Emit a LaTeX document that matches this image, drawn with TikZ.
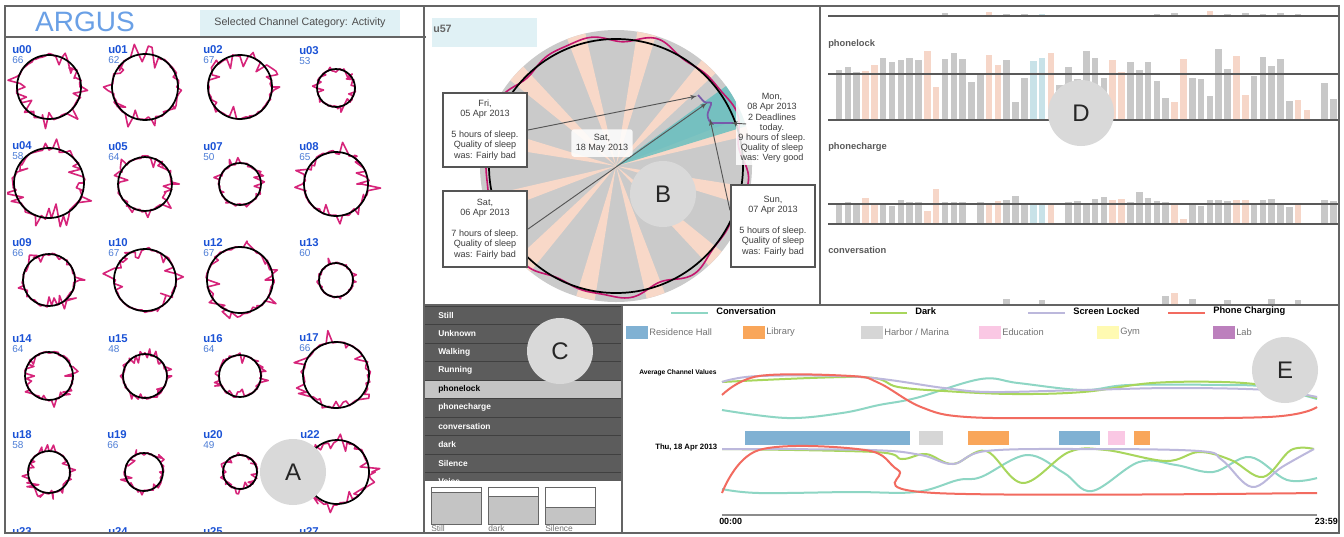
\documentclass[tikz,border=0pt]{standalone}
\usepackage{fontspec}
\setmainfont{Liberation Sans}
\usetikzlibrary{arrows,positioning}
\definecolor{framegray}{RGB}{100,100,100}
\definecolor{argusblue}{RGB}{106,160,230}
\definecolor{catbg}{RGB}{224,241,245}
\definecolor{uidblue}{RGB}{26,82,214}
\definecolor{numblue}{RGB}{77,125,214}
\definecolor{spikepink}{RGB}{214,36,122}
\definecolor{markgray}{RGB}{217,217,217}
\definecolor{sleepgray}{RGB}{202,202,202}
\definecolor{sleeppeach}{RGB}{248,216,200}
\definecolor{sleepteal}{RGB}{96,190,190}
\definecolor{sleepline}{RGB}{196,22,110}
\definecolor{sleeppurple}{RGB}{120,90,170}
\definecolor{notegray}{RGB}{85,85,85}
\definecolor{notetext}{RGB}{60,60,60}
\definecolor{barg}{RGB}{200,200,200}
\definecolor{barp}{RGB}{246,214,200}
\definecolor{barb}{RGB}{200,226,232}
\definecolor{rowdark}{RGB}{92,92,92}
\definecolor{rowlight}{RGB}{196,196,196}
\definecolor{convcol}{RGB}{142,214,196}
\definecolor{darkcol}{RGB}{168,214,92}
\definecolor{lockcol}{RGB}{188,184,220}
\definecolor{chargecol}{RGB}{242,107,96}
\definecolor{reshall}{RGB}{128,177,211}
\definecolor{library}{RGB}{249,166,90}
\definecolor{harbor}{RGB}{214,214,214}
\definecolor{educ}{RGB}{250,200,228}
\definecolor{gym}{RGB}{255,250,178}
\definecolor{lab}{RGB}{188,128,189}
\tikzstyle{userid}=[anchor=north west, inner sep=0pt, text=uidblue, font=\fontsize{8.5}{9}\selectfont\bfseries]
\tikzstyle{usernum}=[anchor=north west, inner sep=0pt, text=numblue, font=\fontsize{7.5}{8}\selectfont]
\tikzstyle{spikes}=[draw=spikepink, line width=1.2pt, line join=round]
\tikzstyle{ring}=[draw=black, line width=1.3pt]
\tikzstyle{panelmark}=[circle, fill=markgray, minimum size=49.5pt, inner sep=0pt, font=\fontsize{18}{18}\selectfont, text=black!85]
\tikzstyle{note}=[draw=notegray, line width=1.6pt, fill=white, align=center, text=notetext, font=\fontsize{6.8}{7.8}\selectfont, inner sep=2pt, minimum width=63pt]
\tikzstyle{pointer}=[->, >=latex', draw=notegray, line width=0.7pt]
\tikzstyle{chanrow}=[draw=black!75, line width=0.6pt]
\tikzstyle{chanlabel}=[anchor=west, inner sep=0pt, font=\fontsize{6.3}{7}\selectfont\bfseries]
\tikzstyle{barlabel}=[anchor=west, inner sep=0pt, text=black!65, font=\fontsize{7}{8}\selectfont\bfseries]
\tikzstyle{refline}=[draw=black!65, line width=0.8pt]
\tikzstyle{legtext}=[anchor=west, inner sep=0pt, font=\fontsize{7}{8}\selectfont\bfseries]
\tikzstyle{loctext}=[anchor=west, inner sep=0pt, text=black!55, font=\fontsize{7}{8}\selectfont]
\tikzstyle{curve}=[line width=1.5pt]
\begin{document}
\begin{tikzpicture}[x=0.75pt,y=-0.75pt]
\useasboundingbox (0,0) rectangle (1344,536);
\fill[white] (0,0) rectangle (1344,536);

\node[text=argusblue, font=\fontsize{21}{21}\selectfont, inner sep=0pt] (title) at (85,22) {ARGUS};
\node[fill=catbg, text=black!70, font=\fontsize{8}{9}\selectfont, minimum width=150pt, minimum height=19.5pt, inner sep=0pt] (category) at (300,23) {Selected Channel Category: Activity};

\begin{scope}
\clip (7,38) rectangle (423,532);
\foreach \lab/\num/\cx/\cy/\r [count=\k] in {00/66/49/87/32, 01/62/145/87/33, 02/67/240/87/32, 03/53/336/88/19,
  04/58/49/183/35, 05/64/145/184/27, 07/50/240/184/21, 08/65/336/184/32,
  09/66/49/280/26, 10/67/145/280/31, 12/67/240/280/33, 13/60/336/280/17,
  14/64/49/376/24, 15/48/145/376/22, 16/64/240/376/21, 17/66/336/375/33,
  18/58/49/472/21, 19/66/144/472/19, 20/49/240/472/17, 22//337/472/32} {
  \node[userid] (u\lab) at (\cx-37,\cy-42) {u\lab};
  \node[usernum] (n\lab) at (\cx-37,\cy-31) {\num};
  \pgfmathtruncatemacro\sd{\k*37+11}
  \pgfmathsetseed{\sd}
  \draw[spikes, shift={(\cx,\cy)}] plot[domain=0:360, samples=61, variable=\t] (\t:{\r*(1+0.05*rand+0.38*rand*(rnd>0.7))}) -- cycle;
  \draw[ring] (\cx,\cy) circle[radius=\r];
}
\foreach \lab/\cx/\r [count=\k] in {23/49/30, 24/145/28, 25/240/26, 27/336/30} {
  \node[userid] (u\lab) at (\cx-37,527) {u\lab};
  \pgfmathtruncatemacro\sd{\k*53+5}
  \pgfmathsetseed{\sd}
  \draw[spikes, shift={(\cx,572)}] plot[domain=0:360, samples=61, variable=\t] (\t:{\r*(1+0.05*rand+0.38*rand*(rnd>0.7))}) -- cycle;
}
\end{scope}

\node[fill=catbg, minimum width=78.75pt, minimum height=21.75pt, inner sep=0pt] (uidbox) at (484.5,32.5) {};
\node[anchor=west, inner sep=0pt, text=black!60, font=\fontsize{8}{9}\selectfont\bfseries] (uid) at (433,29) {u57};
\begin{scope}[shift={(616,166)}]
\fill[sleepgray] (0,0) circle[radius=136];
\foreach \a in {13,43,...,343}
  \fill[sleeppeach] (0,0) -- ({-\a}:136) -- ({-\a-4}:136) -- ({-\a-8}:136) -- cycle;
\fill[sleepteal, opacity=0.8] (0,0) -- (-17:136) -- (-22:136) -- (-27:136) -- (-32:136) -- (-36:136) -- cycle;
\draw[sleepline, line width=1.2pt] plot[domain=0:360, samples=145, smooth, variable=\t] (\t:{129+3*sin(9*\t)+2*sin(14*\t+30)});
\draw[line width=1.3pt] (0,0) circle[radius=127];
\draw[sleeppurple, line width=1.3pt, rounded corners=2pt] (82,-71) -- (89,-63) -- (96,-64) -- (91,-51) -- (94,-43) -- (117,-43);
\end{scope}
\node[fill=white, fill opacity=0.85, text opacity=1, rounded corners=2pt, align=center, text=notetext, font=\fontsize{6.8}{7.8}\selectfont, minimum width=46pt] (today) at (602,143) {Sat,\\18 May 2013};
\node[note, minimum height=55.5pt] (fri) at (485,130) {Fri,\\05 Apr 2013\\[7.8pt]5 hours of sleep.\\Quality of sleep\\was: Fairly bad};
\node[note, minimum height=57pt] (sat) at (485,229) {Sat,\\06 Apr 2013\\[7.8pt]7 hours of sleep.\\Quality of sleep\\was: Fairly bad};
\node[note, minimum height=62pt] (sun) at (773,226) {Sun,\\07 Apr 2013\\[7.8pt]5 hours of sleep.\\Quality of sleep\\was: Fairly bad};
\node[fill=white, fill opacity=0.85, text opacity=1, align=center, text=notetext, font=\fontsize{6.8}{7.6}\selectfont, inner sep=2pt] (mon) at (772,128) {Mon,\\08 Apr 2013\\2 Deadlines\\today.\\9 hours of sleep.\\Quality of sleep\\was: Very good};
\coordinate (fritip) at (697,96);
\coordinate (sattip) at (707,103);
\coordinate (suntip) at (710,119);
\coordinate (montip) at (731,123);
\draw[pointer] (fri.east) -- (fritip);
\draw[pointer] (sat.east) -- (sattip);
\draw[pointer] (sun.160) -- (suntip);
\draw[pointer] ([xshift=8pt,yshift=3pt]mon.west) -- (montip);

\foreach \s/\t/\c in {3/15/g,5/15/g,10/15/g,13/13/g,18/12/p,20/14/g,22/14/g,24/14/b,28/15/g,33/15/g,37/14/g,39/13/g,43/11/p,45/14/g,47/13/g,49/14/g,51/13/g,53/14/g}
  \fill[bar\c] ({835.7+(\s-1)*8.83},\t) rectangle ++(6.6,{16-\t});
\draw[refline] (828,16) -- (1339,16);
\node[barlabel] (lock) at (828,44) {phonelock};
\foreach \t/\c [count=\s] in {70/g,67/g,72/g,71/p,65/p,58/g,62/g,60/g,58/g,60/g,51/p,87/p,59/g,53/g,59/g,82/g,75/g,55/p,65/p,60/g,
  102/g,78/g,61/b,58/b,53/p,85/g,67/g,79/g,51/g,58/g,78/g,60/p,72/p,62/g,70/g,62/g,81/g,98/g,102/p,59/p,
  78/g,79/g,96/g,49/g,69/g,56/p,95/p,76/g,57/g,66/g,59/g,101/g,100/p,110/p,120/g,83/g,99/g}
  \fill[bar\c] ({835.7+(\s-1)*8.83},\t) rectangle ++(6.6,{120-\t});
\draw[refline] (828,74) -- (1339,74);
\draw[refline] (828,120) -- (1339,120);
\node[barlabel] (charge) at (828,147) {phonecharge};
\foreach \t/\c [count=\s] in {203/g,202/g,204/g,198/p,204/p,203/g,206/g,200/g,202/g,202/g,211/p,189/p,202/g,202/g,202/g,224/g,202/g,205/p,201/p,200/g,
  196/g,204/g,205/b,205/b,204/p,224/g,202/g,201/g,203/g,199/g,197/g,200/p,199/p,202/g,192/g,198/g,201/g,202/g,204/p,219/p,
  203/g,206/g,200/g,200/g,201/g,200/p,200/p,204/g,200/g,199/g,203/g,207/g,203/p,224/g,224/g,200/g,201/g}
  \fill[bar\c] ({835.7+(\s-1)*8.83},\t) rectangle ++(6.6,{224-\t});
\draw[refline] (828,204) -- (1339,204);
\draw[refline] (828,224) -- (1339,224);
\node[barlabel] (conv) at (828,250) {conversation};
\foreach \s/\t/\c in {20/299/g,24/300/g,38/296/g,39/293/p,41/299/g,45/300/g,50/299/g,53/300/g}
  \fill[bar\c] ({835.7+(\s-1)*8.83},\t) rectangle ++(6.6,{306-\t});

\begin{scope}
\clip (424,306) rectangle (621,480);
\foreach \lab/\fc/\tc [count=\i from 0] in {Still/rowdark/white, Unknown/rowdark/white, Walking/rowdark/white, Running/rowdark/white, phonelock/rowlight/black, phonecharge/rowdark/white, conversation/rowdark/white, dark/rowdark/white, Silence/rowdark/white, Voice/rowdark/white} {
  \draw[chanrow, fill=\fc] (424,{306+\i*18.5}) rectangle (621,{324.5+\i*18.5});
  \node[chanlabel, text=\tc] (chan\i) at (438,{315.25+\i*18.5}) {\lab};
}
\end{scope}
\foreach \x/\w/\lab [count=\k] in {431/492/Still, 488/496/dark, 545/507/Silence} {
  \fill[rowlight] (\x,\w) rectangle ++(50,{524-\w});
  \draw[black!60, line width=0.6pt] (\x,487) rectangle ++(50,37);
  \draw[black!60, line width=0.6pt] (\x,\w) -- ++(50,0);
  \node[anchor=north west, inner sep=0pt, text=black!55, font=\fontsize{6.3}{7}\selectfont] (thumb\k) at (\x,525.5) {\lab};
}

\foreach \x/\col/\lab [count=\k] in {671/convcol/Conversation, 870/darkcol/Dark, 1028/lockcol/Screen Locked, 1168/chargecol/Phone Charging} {
  \draw[\col, line width=2.2pt] (\x,313) -- ++(37,0);
  \node[legtext] (legend\k) at (\x+45,311) {\lab};
}
\foreach \x/\col/\lab [count=\k] in {626/reshall/Residence Hall, 743/library/Library, 861/harbor/{Harbor / Marina}, 979/educ/Education, 1097/gym/Gym, 1213/lab/Lab} {
  \fill[\col] (\x,326) rectangle ++(22,13);
  \node[loctext] (loc\k) at (\x+23,332.5) {\lab};
}
\node[anchor=west, inner sep=0pt, font=\fontsize{5}{6}\selectfont\bfseries] (avg) at (639,373) {Average Channel Values};
\draw[curve, convcol] plot[smooth, tension=0.6] coordinates {(722,410) (787,418) (842,413) (879,405) (916,398) (981,379) (1018,383) (1083,390) (1129,385) (1222,385) (1268,387) (1317,399)};
\draw[curve, darkcol] plot[smooth, tension=0.6] coordinates {(722,382) (861,377) (898,387) (944,391) (1013,394) (1083,392) (1152,383) (1222,382) (1268,386) (1317,398)};
\draw[curve, lockcol] plot[smooth, tension=0.6] coordinates {(722,382) (759,376) (861,377) (944,388) (990,392) (1083,390) (1176,388) (1268,390) (1317,397)};
\draw[curve, chargecol] plot[smooth, tension=0.6] coordinates {(722,395) (759,376) (851,376) (879,383) (921,407) (967,417) (1083,418) (1268,417) (1317,407)};
\foreach \a/\b/\col in {745/910/reshall, 919/943/harbor, 968/1009/library, 1059/1100/reshall, 1108/1125/educ, 1134/1150/library}
  \fill[\col] (\a,431) rectangle (\b,445);
\node[anchor=west, inner sep=0pt, font=\fontsize{5.8}{7}\selectfont\bfseries] (day) at (655,447) {Thu, 18 Apr 2013};
\draw[curve, convcol] plot[smooth, tension=0.6] coordinates {(722,489) (759,493) (851,492) (916,492) (958,480) (981,477) (1027,455) (1064,473) (1092,491) (1139,462) (1176,465) (1213,472) (1250,457) (1287,480) (1317,478)};
\draw[curve, darkcol] plot[smooth, tension=0.6] coordinates {(722,449) (875,452) (902,459) (926,454) (953,464) (986,451) (1023,483) (1069,452) (1106,450) (1166,461) (1199,452) (1231,460) (1263,477) (1291,450) (1314,449)};
\draw[curve, lockcol] plot[smooth, tension=0.6] coordinates {(722,449) (870,450) (921,455) (953,464) (986,451) (1083,449) (1199,451) (1222,460) (1252,487) (1282,467) (1314,449)};
\draw[curve, chargecol] plot[smooth, tension=0.6] coordinates {(722,493) (759,450) (865,450) (898,470) (935,493) (1317,493)};
\draw[black!45, line width=0.8pt] (722,515) -- (1317,515);
\node[anchor=north west, inner sep=0pt, font=\fontsize{6.7}{7}\selectfont\bfseries] (tstart) at (719,518) {00:00};
\node[anchor=north east, inner sep=0pt, font=\fontsize{6.7}{7}\selectfont\bfseries] (tend) at (1338,518) {23:59};

\draw[framegray, line width=1.9pt] (5,6) rectangle (1339,533);
\draw[framegray, line width=1.5pt] (424,6) -- (424,533);
\draw[framegray, line width=1.1pt] (5,37) -- (426,37);
\draw[framegray, line width=1.1pt] (820,6) -- (820,305);
\draw[framegray, line width=1.1pt] (424,305) -- (1339,305);
\draw[framegray, line width=1.1pt] (622,305) -- (622,533);

\node[panelmark] (markA) at (293,472) {A};
\node[panelmark] (markB) at (663,194) {B};
\node[panelmark] (markC) at (560,351) {C};
\node[panelmark] (markD) at (1081,113) {D};
\node[panelmark] (markE) at (1285,370) {E};
\end{tikzpicture}
\end{document}
